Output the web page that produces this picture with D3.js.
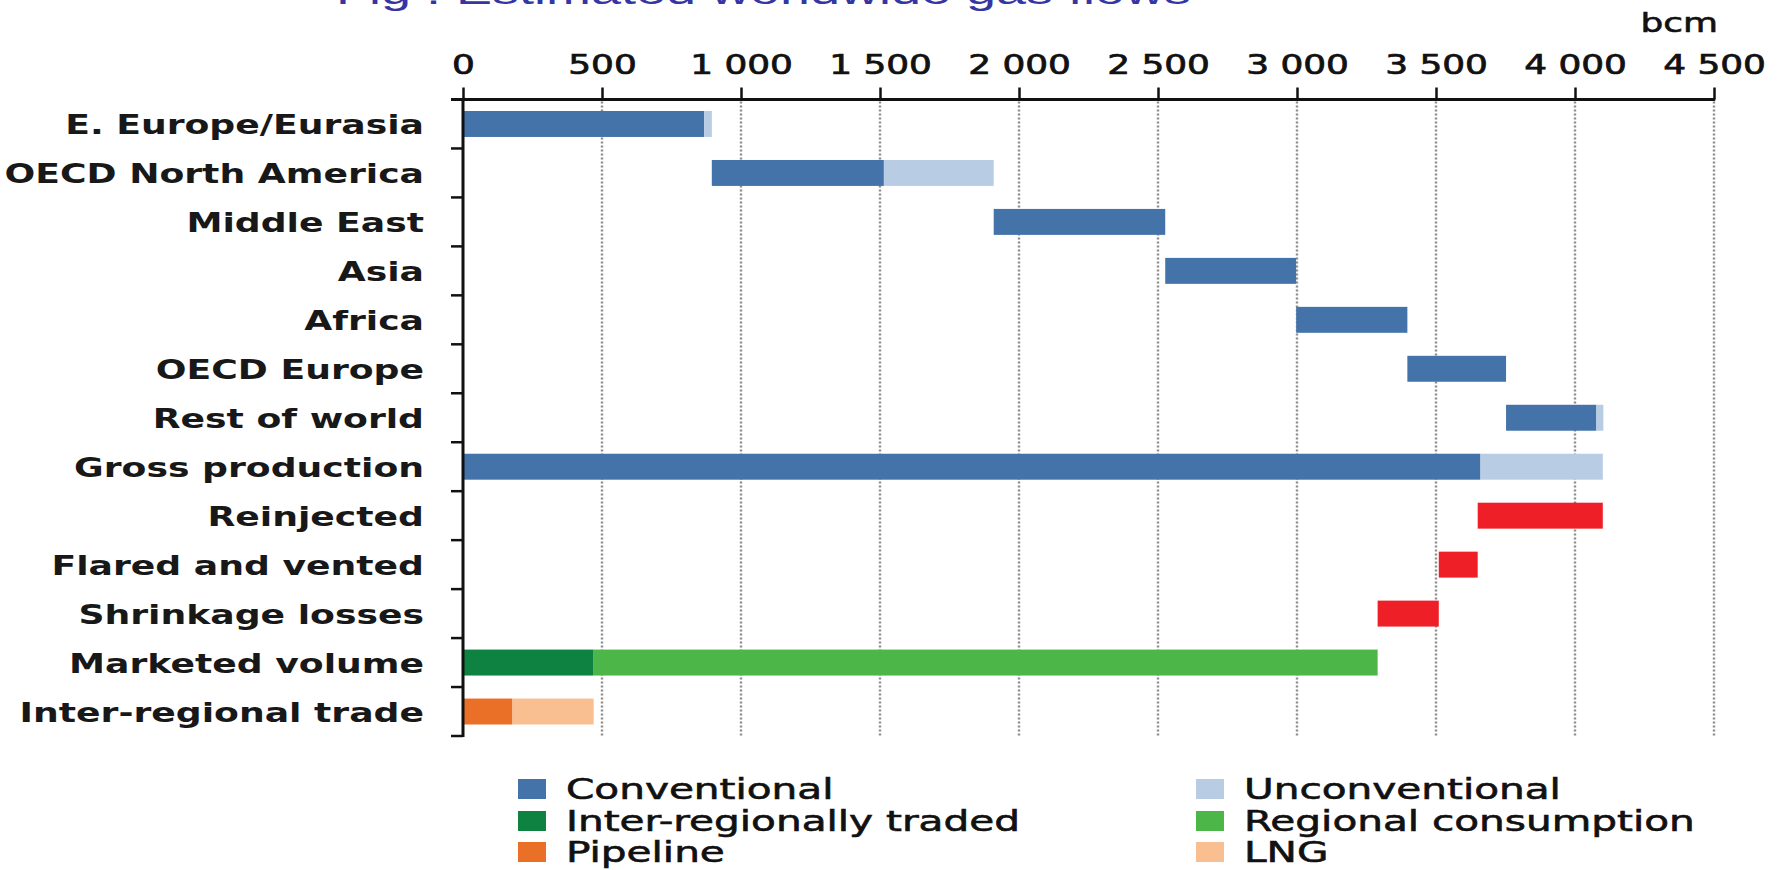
<!DOCTYPE html>
<html>
<head>
<meta charset="utf-8">
<script src="https://cdn.jsdelivr.net/npm/d3@7"></script>
<style>
  body { margin: 0; background: #ffffff; }
  svg { display: block; }
</style>
</head>
<body>
<svg id="chart" width="1786" height="870"></svg>
<script>
// Worldwide gas flows, bcm
const categories = [
  "E. Europe/Eurasia", "OECD North America", "Middle East", "Asia", "Africa",
  "OECD Europe", "Rest of world", "Gross production", "Reinjected",
  "Flared and vented", "Shrinkage losses", "Marketed volume", "Inter-regional trade"
];
const regionNames = categories.slice(0, 7);
const regionConventional   = [868, 619, 617, 471, 400, 355, 325];
const regionUnconventional = [27, 395, 0, 0, 0, 0, 25];
const grossProduction = [3660, 440];          // conventional, unconventional
const lossNames  = ["Reinjected", "Flared and vented", "Shrinkage losses"];
const lossValues = [450, 140, 220];
const marketedVolume = [470, 2820];           // inter-regionally traded, regional consumption
const interRegionalTrade = [178, 292];        // pipeline, LNG
const xTicks = [0, 500, 1000, 1500, 2000, 2500, 3000, 3500, 4000, 4500];
const legendLabels = ["Conventional", "Unconventional", "Inter-regionally traded",
                      "Regional consumption", "Pipeline", "LNG"];
const legendColors = ["#4373a8", "#b8cce4", "#0d8241", "#4cb748", "#e97026", "#f9bf91"];
const lossColor = "#ee1f26";

// Build bar segments
const segments = [];
let cum = 0;
regionNames.forEach((name, i) => {
  segments.push({cat: name, x0: cum, x1: cum + regionConventional[i], color: legendColors[0]});
  cum += regionConventional[i];
  if (regionUnconventional[i] > 0) {
    segments.push({cat: name, x0: cum, x1: cum + regionUnconventional[i], color: legendColors[1]});
    cum += regionUnconventional[i];
  }
});
const grossTotal = grossProduction[0] + grossProduction[1];
segments.push({cat: "Gross production", x0: 0, x1: grossProduction[0], color: legendColors[0]});
segments.push({cat: "Gross production", x0: grossProduction[0], x1: grossTotal, color: legendColors[1]});
let remaining = grossTotal;
lossNames.forEach((name, i) => {
  segments.push({cat: name, x0: remaining - lossValues[i], x1: remaining, color: lossColor});
  remaining -= lossValues[i];
});
segments.push({cat: "Marketed volume", x0: 0, x1: marketedVolume[0], color: legendColors[2]});
segments.push({cat: "Marketed volume", x0: marketedVolume[0], x1: marketedVolume[0] + marketedVolume[1], color: legendColors[3]});
segments.push({cat: "Inter-regional trade", x0: 0, x1: interRegionalTrade[0], color: legendColors[4]});
segments.push({cat: "Inter-regional trade", x0: interRegionalTrade[0], x1: interRegionalTrade[0] + interRegionalTrade[1], color: legendColors[5]});

const svg = d3.select("#chart");

const x = d3.scaleLinear().domain([0, 4500]).range([463, 1714]);
const y = d3.scaleBand().domain(categories).range([99.5, 736])
  .paddingInner(0.47).paddingOuter(0.235);
const gap = (y.step() - y.bandwidth()) / 2;
const yTop = y.range()[0], yBottom = y.range()[1];

const fmt = d3.formatLocale({decimal: ".", thousands: " ", grouping: [3], currency: ["", ""]}).format(",");

// Title (runs off the top edge)
svg.append("text")
  .attr("transform", "translate(336,4) scale(1.5,1)")
  .attr("font-family", "Liberation Sans, Arial, sans-serif")
  .attr("font-size", 36)
  .attr("fill", "#3535a3")
  .text("Fig : Estimated worldwide gas flows");

// Unit
svg.append("text")
  .attr("transform", "translate(1718,32) scale(1.38,1)")
  .attr("text-anchor", "end")
  .attr("font-family", "DejaVu Sans, sans-serif")
  .attr("font-size", 26)
  .attr("fill", "#111")
  .attr("stroke", "#111").attr("stroke-width", 0.6)
  .text("bcm");

// Dotted gridlines
svg.append("g").selectAll("line")
  .data(xTicks.filter(d => d > 0))
  .join("line")
  .attr("x1", d => x(d)).attr("x2", d => x(d))
  .attr("y1", yTop + 2).attr("y2", yBottom)
  .attr("stroke", "#8c8c8c")
  .attr("stroke-width", 2.4)
  .attr("stroke-dasharray", "2,2");

// Bars
svg.append("g").selectAll("rect")
  .data(segments)
  .join("rect")
  .attr("x", d => x(d.x0))
  .attr("width", d => x(d.x1) - x(d.x0))
  .attr("y", d => y(d.cat))
  .attr("height", y.bandwidth())
  .attr("fill", d => d.color);

// Top axis
const xAxis = svg.append("g")
  .attr("transform", `translate(0,${yTop})`)
  .call(d3.axisTop(x).tickValues(xTicks).tickSize(12).tickSizeOuter(0).tickPadding(14).tickFormat(fmt));
xAxis.select(".domain").remove();
xAxis.selectAll(".tick line").attr("stroke", "#111").attr("stroke-width", 2.5);
xAxis.selectAll(".tick text")
  .attr("transform", "scale(1.38,1)")
  .attr("font-family", "DejaVu Sans, sans-serif")
  .attr("font-size", 26)
  .attr("fill", "#111")
  .attr("stroke", "#111").attr("stroke-width", 0.7);
svg.append("line")
  .attr("x1", 451).attr("x2", x(4500) + 1.2)
  .attr("y1", yTop).attr("y2", yTop)
  .attr("stroke", "#111").attr("stroke-width", 3);

// Left axis with ticks between categories
svg.append("line")
  .attr("x1", x(0)).attr("x2", x(0))
  .attr("y1", yTop - 1.5).attr("y2", yBottom + 1)
  .attr("stroke", "#111").attr("stroke-width", 3);
svg.append("g").selectAll("line")
  .data(categories.slice(1).map(c => y(c) - gap).concat([yBottom]))
  .join("line")
  .attr("x1", 451).attr("x2", x(0))
  .attr("y1", d => d).attr("y2", d => d)
  .attr("stroke", "#111").attr("stroke-width", 2.5);

// Category labels
svg.append("g").selectAll("text")
  .data(categories)
  .join("text")
  .attr("transform", d => `translate(424,${y(d) + y.bandwidth() / 2 + 10}) scale(1.34,1)`)
  .attr("text-anchor", "end")
  .attr("font-family", "DejaVu Sans, sans-serif")
  .attr("font-weight", "bold")
  .attr("font-size", 27)
  .attr("fill", "#181818")
  .text(d => d);

// Legend
const legendCols = [518, 1196];
const legendRows = [789, 821, 852];
const legend = svg.append("g").selectAll("g")
  .data(legendLabels)
  .join("g")
  .attr("transform", (d, i) => `translate(${legendCols[i % 2]},${legendRows[Math.floor(i / 2)]})`);
legend.append("rect")
  .attr("x", 0).attr("y", -10).attr("width", 28).attr("height", 20)
  .attr("fill", (d, i) => legendColors[i]);
legend.append("text")
  .attr("transform", "translate(48,10) scale(1.45,1)")
  .attr("font-family", "DejaVu Sans, sans-serif")
  .attr("font-size", 28)
  .attr("fill", "#111")
  .attr("stroke", "#111").attr("stroke-width", 0.6)
  .text(d => d);
</script>
</body>
</html>
